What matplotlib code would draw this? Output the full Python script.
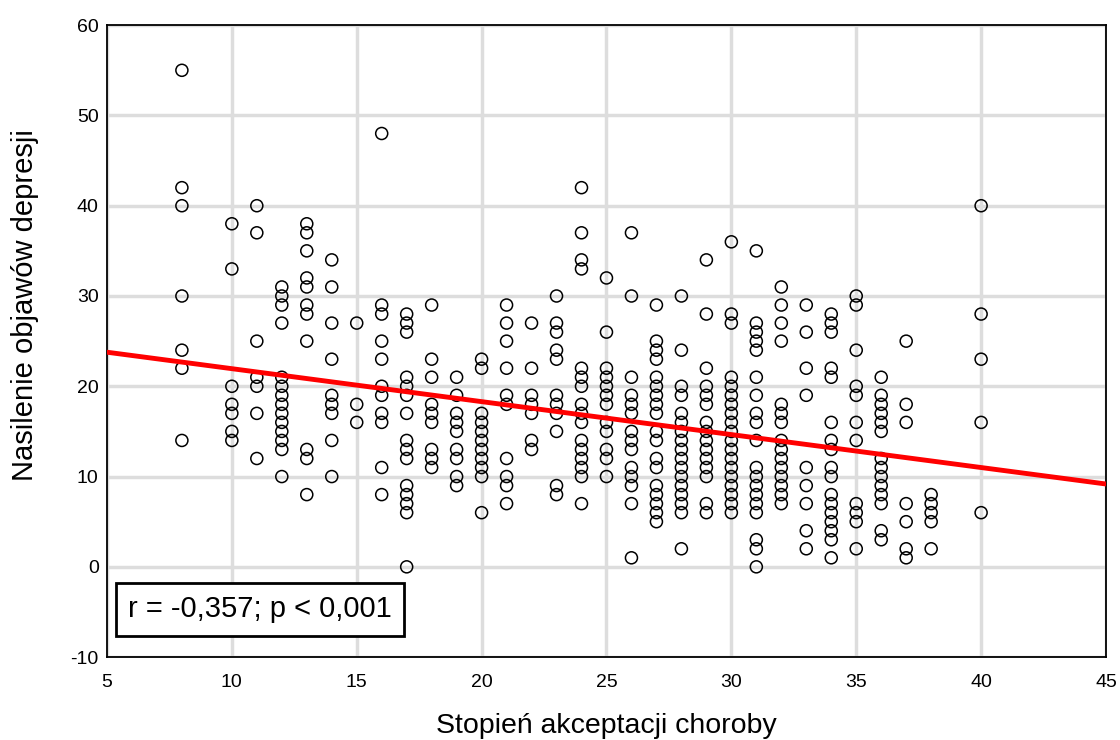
import numpy as np
import matplotlib.pyplot as plt

plt.rcParams['font.family'] = ['Liberation Sans', 'DejaVu Sans']
plt.rcParams['axes.unicode_minus'] = False

# akceptacja choroby -> wyniki depresji w danej kolumnie
akceptacja = [8, 10, 11, 12, 13, 14, 15, 16, 17, 18, 19, 20, 21, 22, 23, 24,
              25, 26, 27, 28, 29, 30, 31, 32, 33, 34, 35, 36, 37, 38, 40]
depresja = [
    [55, 42, 40, 30, 24, 22, 14],
    [38, 33, 20, 18, 17, 15, 14],
    [40, 37, 25, 21, 20, 17, 12],
    [31, 30, 29, 27, 21, 20, 19, 18, 17, 16, 15, 14, 13, 10],
    [38, 37, 35, 32, 31, 29, 28, 25, 13, 12, 8],
    [34, 31, 27, 23, 19, 18, 17, 14, 10],
    [27, 18, 16],
    [48, 29, 28, 25, 23, 20, 19, 17, 16, 11, 8],
    [28, 27, 26, 21, 20, 19, 17, 14, 13, 12, 9, 8, 7, 6, 0],
    [29, 23, 21, 18, 17, 16, 13, 12, 11],
    [21, 19, 17, 16, 15, 13, 12, 10, 9],
    [23, 22, 17, 16, 15, 14, 13, 12, 11, 10, 6],
    [29, 27, 25, 22, 19, 18, 12, 10, 9, 7],
    [27, 22, 19, 18, 17, 14, 13],
    [30, 27, 26, 24, 23, 19, 18, 17, 15, 9, 8],
    [42, 37, 34, 33, 22, 21, 20, 18, 17, 16, 14, 13, 12, 11, 10, 7],
    [32, 26, 22, 21, 20, 19, 18, 16, 15, 13, 12, 10],
    [37, 30, 21, 19, 18, 17, 15, 14, 13, 11, 10, 9, 7, 1],
    [29, 25, 24, 23, 21, 20, 19, 18, 17, 15, 14, 12, 11, 9, 8, 7, 6, 5],
    [30, 24, 20, 19, 17, 16, 15, 14, 13, 12, 11, 10, 9, 8, 7, 6, 2],
    [34, 28, 22, 20, 19, 18, 16, 15, 14, 13, 12, 11, 10, 7, 6],
    [36, 28, 27, 21, 20, 19, 18, 17, 16, 15, 14, 13, 12, 11, 10, 9, 8, 7, 6],
    [35, 27, 26, 25, 24, 21, 19, 17, 16, 14, 11, 10, 9, 8, 7, 6, 3, 2, 0],
    [31, 29, 27, 25, 18, 17, 16, 14, 13, 12, 11, 10, 9, 8, 7],
    [29, 26, 22, 19, 11, 9, 7, 4, 2],
    [28, 27, 26, 22, 21, 16, 14, 13, 11, 10, 8, 7, 6, 5, 4, 3, 1],
    [30, 29, 24, 20, 19, 16, 14, 7, 6, 5, 2],
    [21, 19, 18, 17, 16, 15, 12, 11, 10, 9, 8, 7, 4, 3],
    [25, 18, 16, 7, 5, 2, 1],
    [8, 7, 6, 5, 2],
    [40, 28, 23, 16, 6],
]

# prosta regresji
wyraz_wolny = 25.6
nachylenie = -0.365

x = np.concatenate([[a] * len(d) for a, d in zip(akceptacja, depresja)])
y = np.concatenate(depresja)

fig = plt.figure(figsize=(11.2, 7.4), dpi=100)
ax = fig.add_axes([0.0955, 0.112, 0.892, 0.854])

ax.scatter(x, y, s=75, facecolors='none', edgecolors='black', linewidths=1.1, zorder=3)

xl = np.array([5, 45])
ax.plot(xl, wyraz_wolny + nachylenie * xl, color='red', linewidth=3.5, zorder=4)

ax.set_xlim(5, 45)
ax.set_ylim(-10, 60)
ax.set_xticks(range(5, 46, 5))
ax.set_yticks(range(-10, 61, 10))
ax.grid(True, color='#dddddd', linewidth=2.5, zorder=0)
ax.set_axisbelow(True)
ax.tick_params(length=0, labelsize=14)
ax.tick_params(axis='x', pad=12)
ax.tick_params(axis='y', pad=6)
for s in ax.spines.values():
    s.set_linewidth(1.3)

ax.set_xlabel('Stopień akceptacji choroby', fontsize=20.5, labelpad=16)
ax.set_ylabel('Nasilenie objawów depresji', fontsize=21)
ax.yaxis.set_label_coords(-0.068, 0.557)

ax.text(5.85, -4.7, 'r = -0,357; p < 0,001', fontsize=21, va='center', ha='left',
        bbox=dict(facecolor='white', edgecolor='black', linewidth=2, pad=9), zorder=5)

fig.savefig('out.png', dpi=100)
